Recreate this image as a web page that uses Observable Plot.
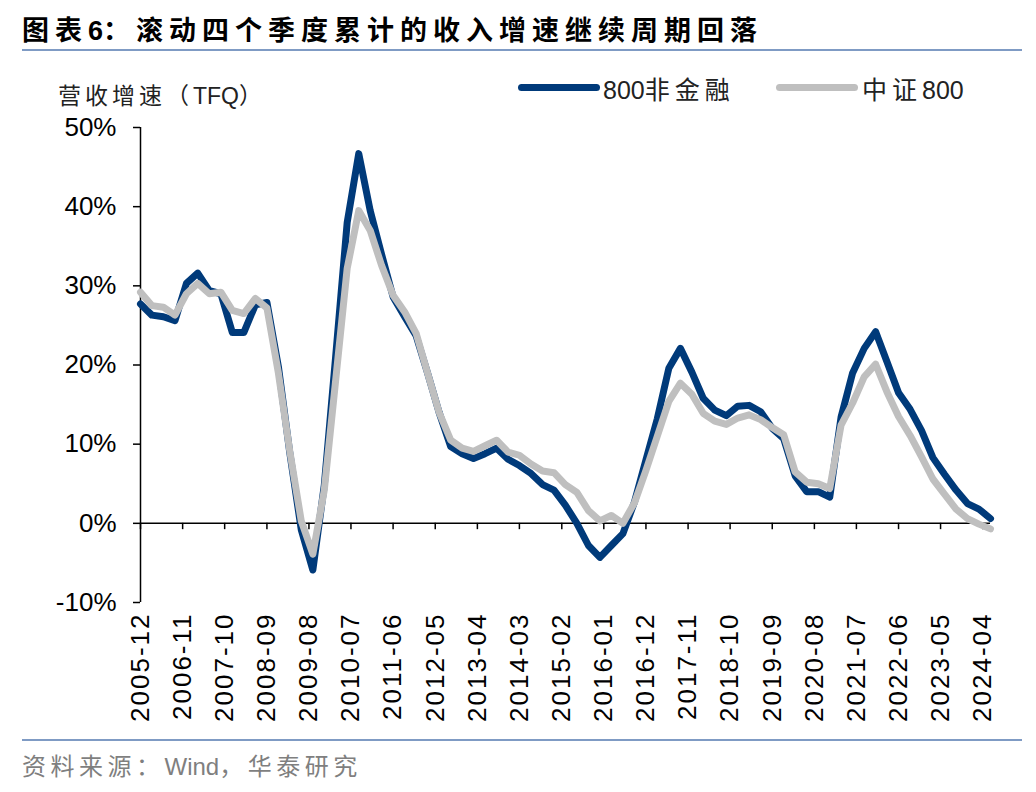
<!DOCTYPE html>
<html>
<head>
<meta charset="utf-8">
<script src="https://cdn.jsdelivr.net/npm/d3@7"></script>
<script src="https://cdn.jsdelivr.net/npm/@observablehq/plot@0.6"></script>
<style>
  html, body { margin: 0; padding: 0; background: #fff; }
  #wrap { position: relative; width: 1036px; height: 792px; background: #fff; overflow: hidden;
          font-family: "Noto Sans CJK SC", "Liberation Sans", sans-serif; }
  .abs { position: absolute; white-space: nowrap; }
  .lat { letter-spacing: 0; font-family: "Liberation Sans", Arial, sans-serif; }
  #title { left: 22px; top: 11px; font-size: 27px; font-weight: bold; letter-spacing: 6px; color: #000; line-height: 36px; }
  .rule { position: absolute; left: 22px; width: 1000px; height: 2px; background: #7F9BC4; }
  #ylab { left: 58px; top: 79px; font-size: 23px; letter-spacing: 4px; color: #222; line-height: 30px; }
  .leg-line { position: absolute; height: 7px; border-radius: 3.5px; }
  .leg-text { font-size: 25px; letter-spacing: 5px; color: #222; line-height: 30px; top: 73px; }
  #source { left: 22px; top: 750px; font-size: 24px; letter-spacing: 4.5px; color: #7F7F7F; line-height: 30px; }
  #chart { position: absolute; left: 0; top: 110px; }
  #chart g[aria-label="x-axis tick label"] text { letter-spacing: 2px; }
</style>
</head>
<body>
<div id="wrap">
  <div id="title" class="abs">图表<span class="lat">6</span>：滚动四个季度累计的收入增速继续周期回落</div>
  <div class="rule" style="top:49px"></div>
  <div id="ylab" class="abs">营收增速（<span class="lat">TFQ</span>）</div>
  <div class="leg-line" style="left:518px; top:84px; width:82px; background:#003A7A"></div>
  <div class="abs leg-text" style="left:603px"><span class="lat">800</span>非金融</div>
  <div class="leg-line" style="left:776px; top:84px; width:82px; background:#BFBFBF"></div>
  <div class="abs leg-text" style="left:862px">中证<span class="lat">800</span></div>
  <div id="chart"></div>
  <div class="rule" style="top:739px"></div>
  <div id="source" class="abs">资料来源：<span class="lat">Wind</span>，华泰研究</div>
</div>
<script>
const quarters = ["2005-12","2006-03","2006-06","2006-09","2006-12","2007-03","2007-06","2007-09","2007-12","2008-03","2008-06","2008-09","2008-12","2009-03","2009-06","2009-09","2009-12","2010-03","2010-06","2010-09","2010-12","2011-03","2011-06","2011-09","2011-12","2012-03","2012-06","2012-09","2012-12","2013-03","2013-06","2013-09","2013-12","2014-03","2014-06","2014-09","2014-12","2015-03","2015-06","2015-09","2015-12","2016-03","2016-06","2016-09","2016-12","2017-03","2017-06","2017-09","2017-12","2018-03","2018-06","2018-09","2018-12","2019-03","2019-06","2019-09","2019-12","2020-03","2020-06","2020-09","2020-12","2021-03","2021-06","2021-09","2021-12","2022-03","2022-06","2022-09","2022-12","2023-03","2023-06","2023-09","2023-12","2024-03","2024-06"];

const nonFin800 = [27.7, 26.3, 26.1, 25.6, 30.3, 31.6, 29.4, 29.0, 24.1, 24.1,
  27.6, 27.9, 19.8, 9.0, -0.8, -5.9, 4.8, 21.0, 38.0, 46.7,
  39.5, 34.0, 28.6, 26.1, 23.7, 19.0, 14.0, 9.7, 8.8, 8.2,
  8.8, 9.5, 8.1, 7.3, 6.3, 4.9, 4.2, 2.3, 0.0, -2.8,
  -4.3, -2.8, -1.3, 2.7, 8.0, 13.2, 19.6, 22.1, 19.1, 15.8,
  14.3, 13.6, 14.8, 14.9, 14.1, 12.0, 10.7, 6.0, 4.0, 4.0,
  3.3, 13.4, 19.0, 22.1, 24.2, 20.4, 16.5, 14.4, 11.7, 8.3,
  6.2, 4.2, 2.5, 1.8, 0.6];

const csi800 = [29.2, 27.5, 27.3, 26.3, 29.0, 30.3, 29.0, 29.2, 26.9, 26.5,
  28.4, 27.2, 19.0, 9.2, 0.3, -3.9, 4.2, 18.0, 32.2, 39.5,
  37.0, 32.6, 28.8, 26.7, 24.0, 19.0, 14.0, 10.5, 9.5, 9.1,
  9.8, 10.5, 9.0, 8.6, 7.5, 6.6, 6.4, 4.9, 3.9, 1.6,
  0.3, 1.0, 0.0, 2.6, 6.7, 11.0, 15.4, 17.7, 16.3, 13.9,
  12.9, 12.5, 13.3, 13.7, 13.1, 12.1, 11.2, 6.5, 5.2, 5.0,
  4.4, 12.4, 15.2, 18.5, 20.1, 16.6, 13.5, 11.1, 8.4, 5.6,
  3.7, 1.8, 0.6, -0.1, -0.7];

const xTickLabels = ["2005-12","2006-11","2007-10","2008-09","2009-08","2010-07","2011-06","2012-05","2013-04","2014-03","2015-02","2016-01","2016-12","2017-11","2018-10","2019-09","2020-08","2021-07","2022-06","2023-05","2024-04"];
const yTicks = [-10, 0, 10, 20, 30, 40, 50];

const seriesNames = ["800非金融", "中证800"];
const seriesColors = ["#003A7A", "#BFBFBF"];

const parse = d3.utcParse("%Y-%m");
const rows = [];
quarters.forEach((q, i) => {
  rows.push({date: parse(q), value: nonFin800[i], series: seriesNames[0]});
  rows.push({date: parse(q), value: csi800[i], series: seriesNames[1]});
});
const tickDates = xTickLabels.map(parse);
const xStart = parse(quarters[0]);
const xEnd = parse(quarters[quarters.length - 1]);

const chart = Plot.plot({
  width: 1036,
  height: 620,
  marginTop: 17,
  marginBottom: 128,
  marginLeft: 140,
  marginRight: 46,
  style: {fontFamily: "'Liberation Sans', Arial, sans-serif", fontSize: "26px", color: "#000", background: "transparent"},
  x: {type: "utc", domain: [xStart, xEnd]},
  y: {domain: [-10, 50]},
  marks: [
    Plot.axisY({ticks: yTicks, tickFormat: d => d + "%", tickSize: 7, tickPadding: 17, label: null, fontSize: 26, strokeWidth: 1.5}),
    Plot.axisX(tickDates, {tickRotate: -90, tickFormat: d3.utcFormat("%Y-%m"), tickSize: 0, tickPadding: 10, label: null, fontSize: 26}),
    Plot.ruleX([xStart], {y1: -10, y2: 50, stroke: "#000", strokeWidth: 1.5}),
    Plot.ruleY([0], {stroke: "#000", strokeWidth: 1.5}),
    Plot.ruleX(tickDates, {y1: 0, y2: -0.8, stroke: "#000", strokeWidth: 1.5}),
    Plot.line(rows.filter(d => d.series === seriesNames[0]), {x: "date", y: "value", stroke: seriesColors[0], strokeWidth: 7, strokeLinejoin: "round"}),
    Plot.line(rows.filter(d => d.series === seriesNames[1]), {x: "date", y: "value", stroke: seriesColors[1], strokeWidth: 7, strokeLinejoin: "round"})
  ]
});
document.getElementById("chart").appendChild(chart);
</script>
</body>
</html>
